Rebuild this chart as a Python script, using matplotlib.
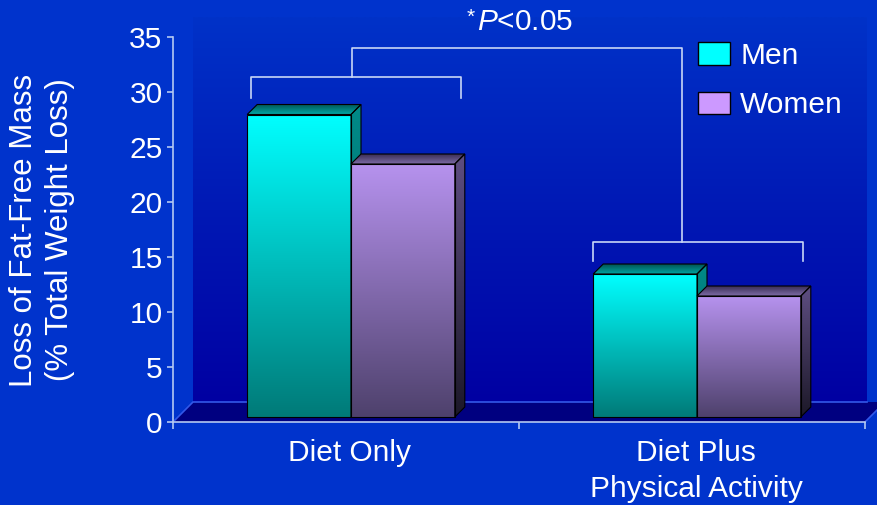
import numpy as np
import matplotlib
matplotlib.use("Agg")
import matplotlib.pyplot as plt
import matplotlib.transforms as mtransforms
from matplotlib.patches import Polygon, Patch
from matplotlib.colors import LinearSegmentedColormap

plt.rcParams['font.family'] = ['Liberation Sans', 'DejaVu Sans']
plt.rcParams['mathtext.fontset'] = 'custom'
plt.rcParams['mathtext.rm'] = 'Liberation Sans'
plt.rcParams['mathtext.it'] = 'Liberation Sans:italic'

groups = ["Diet Only", "Diet Plus\nPhysical Activity"]
men = [27.5, 13]
women = [23, 11]
series_names = ["Men", "Women"]

W, H = 877, 505
BG = '#0033CC'
LINE = '#B4C8F2'
FS = 21.5

fig = plt.figure(figsize=(W / 100, H / 100), dpi=100)
fig.patch.set_facecolor(BG)

# background layer in pixel coordinates: back wall and floor of the 3D box
bg = fig.add_axes([0, 0, 1, 1], zorder=0)
bg.set_xlim(0, W)
bg.set_ylim(H, 0)
bg.axis('off')


def gradient(axis, verts, c_top, c_bot, z, edge='black', lw=0.8):
    poly = Polygon(verts, closed=True, facecolor='none', edgecolor=edge,
                   lw=lw, zorder=z + 0.1)
    axis.add_patch(poly)
    xs = [v[0] for v in verts]
    ys = [v[1] for v in verts]
    cmap = LinearSegmentedColormap.from_list('g', [c_bot, c_top])
    g = np.linspace(0, 1, 256).reshape(-1, 1)
    y0, y1 = min(ys), max(ys)
    if axis.yaxis_inverted():
        y0, y1 = y1, y0
    im = axis.imshow(g, cmap=cmap, origin='lower', aspect='auto',
                     extent=(min(xs), max(xs), y0, y1), zorder=z,
                     interpolation='bilinear')
    im.set_clip_path(poly)
    return poly


gradient(bg, [(193, 17), (867, 17), (867, 402), (193, 402)],
         '#0032C8', '#0000A2', 1, edge='none', lw=0)
bg.add_patch(Polygon([(173, 422), (865, 422), (885, 402), (193, 402)],
                     closed=True, facecolor='#000080', edgecolor='none', zorder=2))
bg.plot([173, 193, 867], [422, 402, 402], color='#3358E8', lw=1.2, zorder=3)
bg.plot([865, 885], [422, 402], color='#3358E8', lw=1.2, zorder=3)
bg.set_xlim(0, W)
bg.set_ylim(H, 0)

# main axes
ax = fig.add_axes([173 / W, 1 - 422 / H, 692 / W, 385 / H], zorder=1)
ax.patch.set_alpha(0)
ax.set_xlim(0, 2)
ax.set_ylim(0, 35)

px_x = 692 / 2
px_y = 385 / 35
ox, oy = 5 / px_x, 5 / px_y      # bar front offset into the box
dx, dy = 10 / px_x, 10 / px_y    # bar depth

men_cols = dict(front=('#00FFFF', '#007A78'), side=('#008A88', '#006462'),
                top=('#005454', '#00A6A2'))
women_cols = dict(front=('#B692EE', '#4E416C'), side=('#5E4E82', '#1C1828'),
                  top=('#3A2E56', '#7E6CA6'))


def bar3d(x0, x1, h, cols, z):
    a, b = x0 + ox, x1 + ox
    gradient(ax, [(a, oy), (b, oy), (b, h + oy), (a, h + oy)], *cols['front'], z)
    gradient(ax, [(b, oy), (b + dx, oy + dy), (b + dx, h + oy + dy), (b, h + oy)],
             *cols['side'], z)
    gradient(ax, [(a, h + oy), (b, h + oy), (b + dx, h + oy + dy), (a + dx, h + oy + dy)],
             cols['top'][0], cols['top'][1], z)


width = 0.3
for i in range(len(groups)):
    c = i + 0.5
    bar3d(c - width, c, men[i], men_cols, 4 + i * 2)
    bar3d(c, c + width, women[i], women_cols, 5 + i * 2)

ax.set_xlim(0, 2)
ax.set_ylim(0, 35)

# significance brackets
bk = dict(color='#C8D6F6', lw=1.2, zorder=20, clip_on=False)
ax.plot([0.225, 0.225, 0.832, 0.832], [29.5, 31.36, 31.36, 29.5], **bk)
ax.plot([1.214, 1.214, 1.821, 1.821], [14.66, 16.34, 16.34, 14.66], **bk)
ax.plot([0.517, 0.517, 1.471, 1.471], [31.36, 34.03, 34.03, 16.34], **bk)
fig.text(471 / W, 1 - 17 / H, "*", color='white', fontsize=15,
         ha='center', va='center')
fig.text(477 / W, 1 - 22 / H, r"$\mathit{P}$<0.05", color='white',
         fontsize=FS, ha='left', va='center')

# axes styling
for s in ['top', 'right']:
    ax.spines[s].set_visible(False)
for s in ['left', 'bottom']:
    ax.spines[s].set_color(LINE)
    ax.spines[s].set_linewidth(1.2)
ax.set_yticks(range(0, 36, 5))
ax.tick_params(axis='y', colors=LINE, labelcolor='white', labelsize=FS,
               length=4.5, width=1.2, pad=3)
ax.set_xticks([0, 1, 2])
ax.set_xticklabels([])
ax.tick_params(axis='x', which='major', colors=LINE, length=5, width=1.2)
ax.set_xticks([0.5, 1.5], minor=True)
ax.set_xticklabels(groups, minor=True, fontsize=FS, color='white',
                   linespacing=1.4)
ax.tick_params(axis='x', which='minor', length=0, pad=12)
shift = mtransforms.ScaledTranslation(4 / 100, 0, fig.dpi_scale_trans)
for lbl in ax.get_xticklabels(minor=True):
    lbl.set_transform(lbl.get_transform() + shift)

fig.text(42 / W, 1 - 230 / H, "Loss of Fat-Free Mass\n(% Total Weight Loss)",
         rotation=90, ha='center', va='center', multialignment='center',
         color='white', fontsize=22.5, linespacing=1.3)

handles = [Patch(facecolor='#00FFFF', edgecolor='black', lw=1),
           Patch(facecolor='#CC99FF', edgecolor='black', lw=1)]
leg = fig.legend(handles, series_names, loc='upper left',
                 bbox_to_anchor=(686 / W, 1 - 30 / H), frameon=False,
                 fontsize=FS, handlelength=1.07, handleheight=0.8,
                 handletextpad=0.35, labelspacing=0.72, borderaxespad=0)
for t in leg.get_texts():
    t.set_color('white')

fig.savefig("out.png", dpi=100, facecolor=BG)
